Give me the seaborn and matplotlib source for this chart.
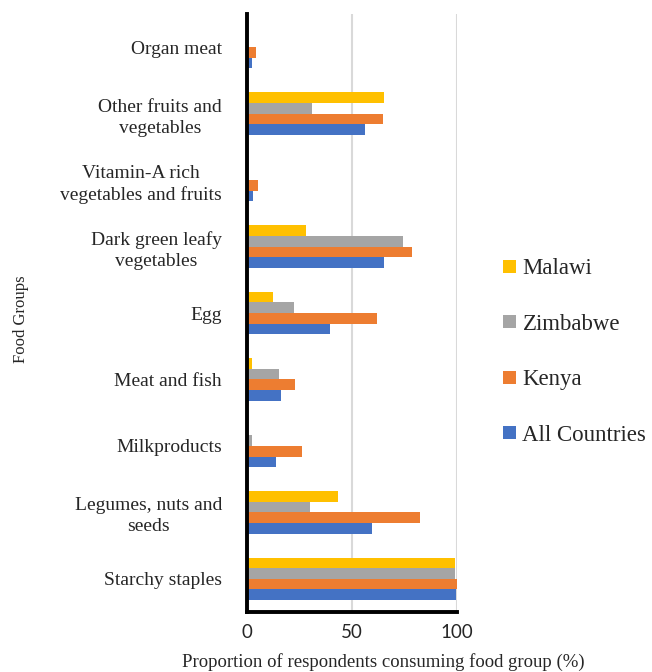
import matplotlib
matplotlib.use("Agg")
import matplotlib.pyplot as plt
import seaborn as sns
import pandas as pd

categories = [
    "Organ meat",
    "Other fruits and\nvegetables",
    "Vitamin-A rich\nvegetables and fruits",
    "Dark green leafy\nvegetables",
    "Egg",
    "Meat and fish",
    "Milkproducts",
    "Legumes, nuts and\nseeds",
    "Starchy staples",
]
series_names = ["Malawi", "Zimbabwe", "Kenya", "All Countries"]
malawi = [0, 65.2, 0.5, 28, 12.4, 2.5, 0.5, 43.2, 99]
zimbabwe = [0, 30.8, 0, 74.3, 22.2, 15.3, 2.5, 30.1, 99]
kenya = [4.3, 64.6, 5.4, 78.5, 62, 22.8, 26, 82.4, 100]
all_countries = [2.2, 56, 3, 65.2, 39.7, 16, 13.7, 59.5, 99.5]
colors = ["#FFC000", "#A5A5A5", "#ED7D31", "#4472C4"]
xticks = [0, 50, 100]

rows = []
for name, vals in zip(series_names, [malawi, zimbabwe, kenya, all_countries]):
    for c, v in zip(categories, vals):
        rows.append({"group": c, "country": name, "value": v})
df = pd.DataFrame(rows)

sns.set_style("white")
fig = plt.figure(figsize=(6.52, 6.72), dpi=100)
ax = fig.add_axes([247 / 652, 1 - 612 / 672, 210 / 652, 598 / 672])

sns.barplot(data=df, y="group", x="value", hue="country", orient="h",
            order=categories, hue_order=series_names, palette=colors,
            width=0.64, saturation=1, ax=ax, edgecolor="none")

ax.set_xlim(0, 100)
ax.set_ylim(8.5, -0.5)
ax.set_xticks(xticks)
ax.set_xticklabels([str(t) for t in xticks], fontfamily="Lato", fontsize=13.5)
ax.tick_params(axis="x", length=0, pad=9)
ax.tick_params(axis="y", length=0, pad=18)
for lab in ax.get_yticklabels():
    lab.set_fontfamily("Liberation Serif")
    lab.set_fontsize(14)
    lab.set_multialignment("center")
    lab.set_linespacing(1.3)

ax.xaxis.grid(True, color="#D9D9D9", linewidth=1.5)
ax.set_axisbelow(True)
for s in ["top", "right"]:
    ax.spines[s].set_visible(False)
for s in ["left", "bottom"]:
    ax.spines[s].set_color("black")
    ax.spines[s].set_linewidth(2.8)

ax.set_xlabel("Proportion of respondents consuming food group (%)",
              fontfamily="Liberation Serif", fontsize=13.5)
ax.xaxis.set_label_coords(0.65, -0.068)
ax.set_ylabel("Food Groups", fontfamily="Liberation Serif", fontsize=12)
ax.yaxis.set_label_coords(-1.04, 0.49)

handles, labels = ax.get_legend_handles_labels()
ax.legend(handles, labels, loc="center left",
          bbox_to_anchor=(503 / 652, 1 - 352 / 672),
          bbox_transform=fig.transFigure, frameon=False,
          prop={"family": "Liberation Serif", "size": 16.5},
          handlelength=0.55, handleheight=0.5, handletextpad=0.3,
          labelspacing=1.5, borderpad=0, borderaxespad=0)

fig.savefig("out.png", dpi=100)
